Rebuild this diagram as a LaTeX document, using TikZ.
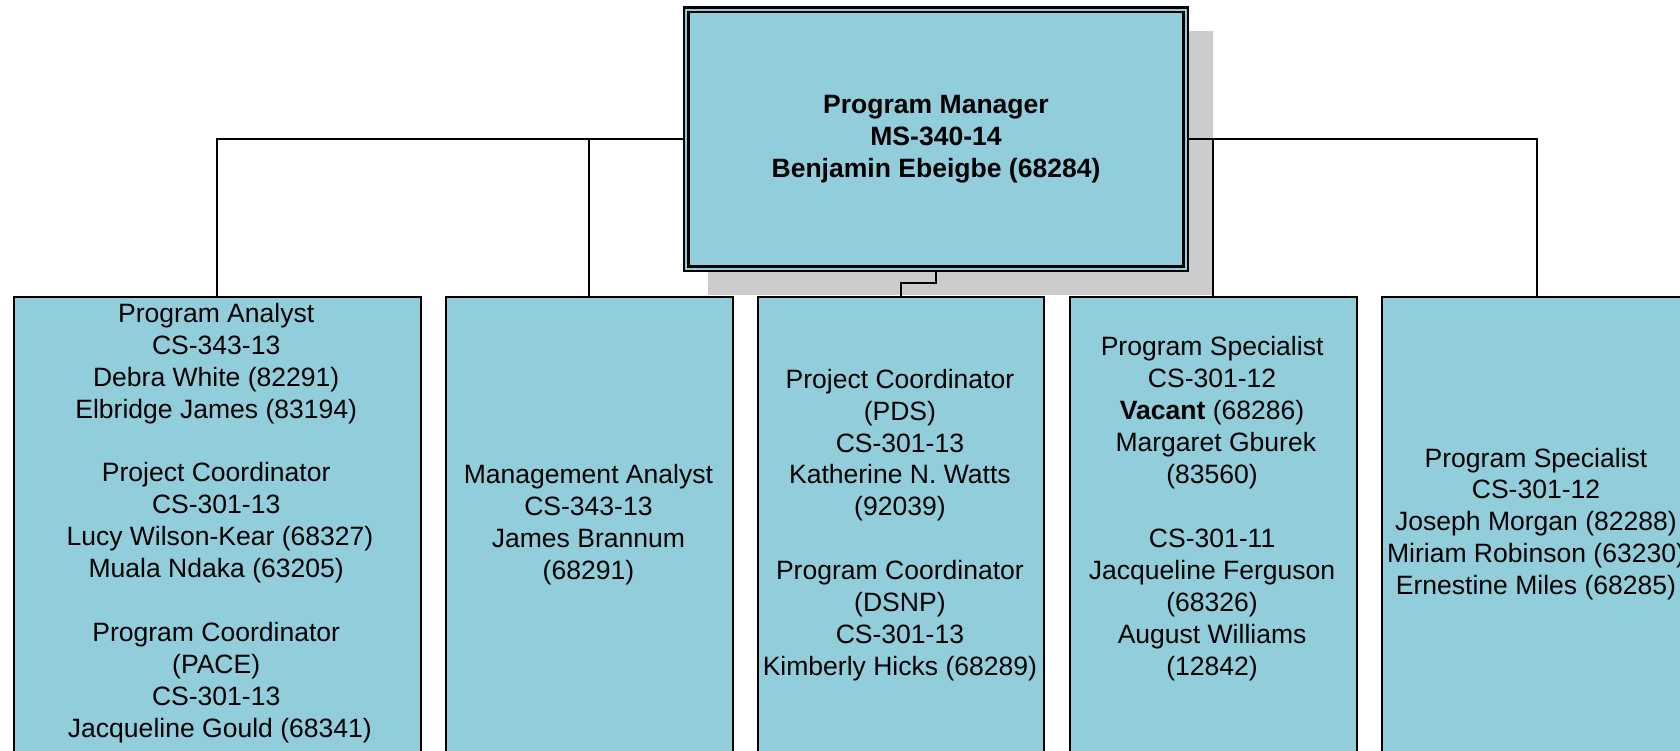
\documentclass[tikz,border=0pt]{standalone}
\usepackage{fontspec}
\setmainfont{Liberation Sans}
\usetikzlibrary{backgrounds}
\definecolor{boxfill}{RGB}{146,205,220}
\definecolor{shadowgray}{RGB}{204,204,204}
\tikzset{
  px/.style={x=0.75pt,y=-0.75pt},
  unitbox/.style={rectangle, draw=black, line width=1.5pt, fill=boxfill, inner sep=0pt,
    anchor=north west, minimum height=348.4pt},
  labeltext/.style={align=center, inner sep=0pt, font=\fontsize{19.9pt}{23.95pt}\selectfont},
  conn/.style={draw=black, line width=1.5pt},
  mgrbox/.style={rectangle, draw=black, line width=1.7pt, double=boxfill, double distance=1.5pt,
    fill=boxfill, inner sep=0pt, align=center,
    font=\fontsize{19.9pt}{23.95pt}\selectfont\bfseries,
    minimum width=374.5pt, minimum height=194.25pt},
  shadowfill/.style={fill=shadowgray}
}
\newcommand{\lsp}{\hspace*{0.278em}}
\begin{document}
\begin{tikzpicture}[px]
\useasboundingbox (0,0) rectangle (1680,750);
\clip (0,0) rectangle (1680,750);

% manager box
\node[mgrbox] (mgr) at (936,139) {Program Manager\\MS-340-14\\Benjamin Ebeigbe (68284)};

% subordinate boxes
\node[unitbox, minimum width=305.6pt] (b1) at (12.5,295.5) {};
\node[unitbox, minimum width=215.9pt] (b2) at (444.5,295.5) {};
\node[unitbox, minimum width=215.1pt] (b3) at (756.5,295.5) {};
\node[unitbox, minimum width=215.4pt] (b4) at (1068.5,295.5) {};
\node[unitbox, minimum width=233.6pt] (b5) at (1380.5,295.5) {};

% texts
\node[labeltext] (t1) at (216.2,523) {Program Analyst\\CS-343-13\\Debra White (82291)\\Elbridge James (83194)\\[23.95pt]Project Coordinator\\CS-301-13\\\lsp Lucy Wilson-Kear (68327)\\Muala Ndaka (63205)\\[23.95pt]Program Coordinator\\(PACE)\\CS-301-13\\\lsp Jacqueline Gould (68341)};
\node[labeltext] (t2) at (588.4,524.5) {Management Analyst\\CS-343-13\\James Brannum\\(68291)};
\node[labeltext] (t3) at (899.9,525) {Project Coordinator\\(PDS)\\CS-301-13\\Katherine N. Watts\\(92039)\\[23.95pt]Program Coordinator\\(DSNP)\\CS-301-13\\Kimberly Hicks (68289)};
\node[labeltext] (t4) at (1212.1,508.5) {Program Specialist\\CS-301-12\\\textbf{Vacant} (68286)\\\lsp Margaret Gburek\\(83560)\\[23.95pt]CS-301-11\\Jacqueline Ferguson\\(68326)\\August Williams\\(12842)};
\node[labeltext] (t5) at (1536,524) {Program Specialist\\CS-301-12\\Joseph Morgan (82288)\\Miriam Robinson (63230)\\Ernestine Miles (68285)};

\begin{scope}[on background layer]
  \fill[shadowfill] ([xshift=17.25pt,yshift=-17.25pt]mgr.north west) rectangle ([xshift=20pt,yshift=-19pt]mgr.south east);
  \coordinate (bus) at (0,138.5);
  \draw[conn] (b1.north) |- (bus -| b5.north) -- (b5.north);
  \draw[conn] (b2.north) -- (b2.north |- bus);
  \draw[conn] (b4.north) -- (b4.north |- bus);
  \draw[conn] (mgr.south) |- ([yshift=9.6pt]b3.north) -- (b3.north);
\end{scope}
\end{tikzpicture}
\end{document}
